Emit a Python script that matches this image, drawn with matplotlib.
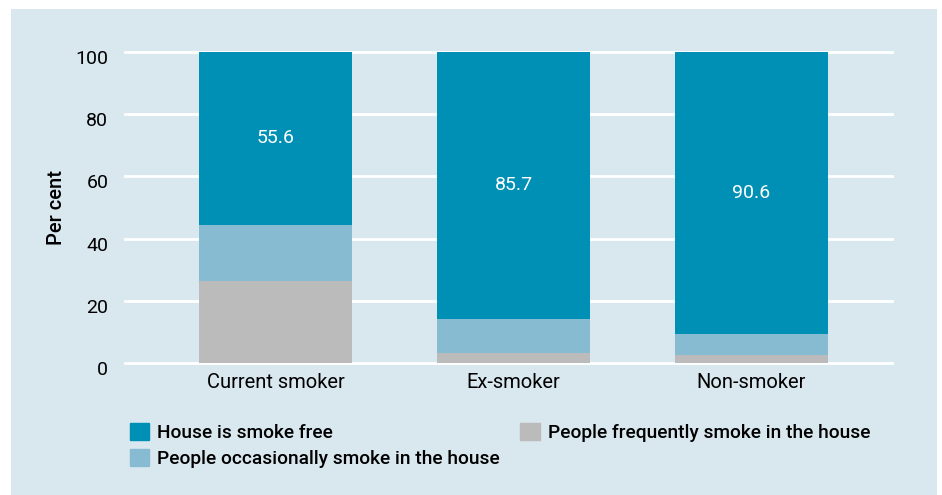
import matplotlib
matplotlib.use("Agg")
import matplotlib.pyplot as plt
from matplotlib.patches import Rectangle, Patch
from matplotlib.transforms import ScaledTranslation
import numpy as np

categories = ["Current smoker", "Ex-smoker", "Non-smoker"]
frequent = [26.5, 3.3, 2.6]
occasional = [17.9, 11.0, 6.8]
smoke_free = [55.6, 85.7, 90.6]
series_labels = ["House is smoke free", "People occasionally smoke in the house",
                 "People frequently smoke in the house"]
yticks = [0, 20, 40, 60, 80, 100]

C_FREE = "#0090B5"
C_OCC = "#86BBD2"
C_FREQ = "#BBBBBB"
BG = "#D9E7EF"

plt.rcParams['font.family'] = ['Roboto', 'DejaVu Sans']

W, H = 942, 495
fig = plt.figure(figsize=(W / 100, H / 100), dpi=100)
fig.patch.set_facecolor("white")
fig.patches.append(Rectangle((11 / W, 0), (937 - 11) / W, (495 - 9) / H,
                             transform=fig.transFigure, facecolor=BG,
                             edgecolor="none", zorder=-10))

ax = fig.add_axes([125 / W, (H - 363) / H, (892 - 125) / W, (363 - 52) / H])
ax.set_facecolor("none")
x = np.arange(len(categories))
w = 0.643
for y in yticks:
    ax.axhline(y, color="white", lw=2, zorder=1, clip_on=False)
ax.bar(x, frequent, w, color=C_FREQ, zorder=2)
ax.bar(x, occasional, w, bottom=frequent, color=C_OCC, zorder=2)
base = np.array(frequent) + np.array(occasional)
ax.bar(x, smoke_free, w, bottom=base, color=C_FREE, zorder=2)
for xi, b, v in zip(x, base, smoke_free):
    ax.text(xi, b + v / 2, f"{v:.1f}", ha="center", va="center",
            color="white", fontsize=14, zorder=3)

ax.set_xlim(-0.632, 2.59)
ax.set_ylim(0, 100)
ax.set_yticks(yticks)
ax.set_xticks(x)
ax.set_xticklabels(categories)
ax.tick_params(axis="both", length=0, labelsize=14.5, colors="black")
ax.tick_params(axis="y", pad=12, labelsize=14)
ax.tick_params(axis="x", pad=7)
off = ScaledTranslation(0, -5 / 100, fig.dpi_scale_trans)
for t in ax.yaxis.get_major_ticks():
    t.label1.set_transform(t.label1.get_transform() + off)
for s in ax.spines.values():
    s.set_visible(False)
ax.set_ylabel("Per cent", fontsize=14.5, fontweight="medium", labelpad=7)

handles = [Patch(color=C_FREE), Patch(color=C_OCC), Patch(color=C_FREQ)]
fig.legend(handles, series_labels, ncol=2, loc="upper left",
           bbox_to_anchor=(122 / W, 1 - 415 / H), frameon=False,
           prop={"size": 13.8, "weight": "medium"},
           handlelength=1.0, handleheight=1.0, handletextpad=0.45,
           columnspacing=1.05, labelspacing=0.38, borderaxespad=0)

fig.savefig("out.png", dpi=100)
